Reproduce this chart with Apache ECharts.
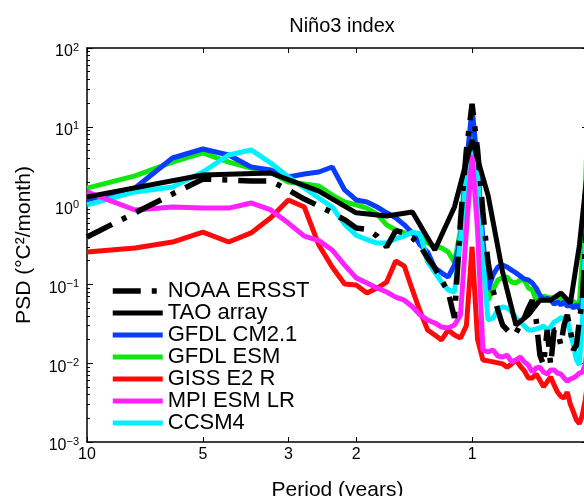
<!DOCTYPE html>
<html>
<head>
<meta charset="utf-8">
<script src="https://cdn.jsdelivr.net/npm/echarts@6/dist/echarts.min.js"></script>
<style>
html, body { margin: 0; padding: 0; background: #fff; }
#chart { width: 584px; height: 496px; }
</style>
</head>
<body>
<div id="chart"></div>
<script>
// frequency grid (cycles/year) of the model / ERSST spectra
const freq = [0.1, 0.1333, 0.1667, 0.2, 0.2333, 0.2667, 0.3, 0.3333, 0.3667, 0.4,
  0.4333, 0.4667, 0.5, 0.5333, 0.5667, 0.6, 0.6333, 0.6667, 0.7, 0.7333,
  0.7667, 0.8, 0.8333, 0.8667, 0.9, 0.9333, 0.9667, 1.0, 1.0333, 1.0667,
  1.1, 1.1333, 1.1667, 1.2, 1.2333, 1.2667, 1.3, 1.3333, 1.3667, 1.4,
  1.4333, 1.4667, 1.5, 1.5333, 1.5667, 1.6, 1.6333, 1.6667, 1.7, 1.7333,
  1.7667, 1.8, 1.8333, 1.8667, 1.9, 1.9333, 1.9667, 2.0];
// TAO array is a shorter record -> coarser grid
const freqTao = [0.1, 0.2, 0.3, 0.4, 0.5, 0.6, 0.7, 0.8, 0.9, 1.0,
  1.1, 1.2, 1.3, 1.4, 1.5, 1.6, 1.7, 1.8, 1.9, 2.0];

const noaaErsst = [0.40, 0.81, 1.40, 2.18, 2.11, 2.05, 2.05, 1.58, 1.21, 0.99,
  0.81, 0.66, 0.52, 0.50, 0.41, 0.298, 0.48, 0.45, 0.39, 0.307,
  0.216, 0.162, 0.114, 0.080, 0.0375, 0.66, 5.1, 19.5, 5.1, 0.83,
  0.192, 0.085, 0.047, 0.0305, 0.0264, 0.0228, 0.0242, 0.0305, 0.0375, 0.050,
  0.063, 0.0353, 0.0127, 0.0095, 0.0264, 0.0095, 0.0264, 0.0264, 0.017, 0.0305,
  0.041, 0.0264, 0.0147, 0.017, 0.0353, 0.063, 0.273, 1.18];
const taoArray = [1.29, 2.44, 2.59, 1.53, 0.81, 0.74, 0.83, 0.273, 0.96, 6.8,
  1.36, 0.144, 0.0305, 0.041, 0.063, 0.063, 0.078, 0.058, 0.316, 3.27];
const gfdlCm21 = [1.18, 1.67, 4.02, 5.23, 4.39, 3.09, 2.83, 2.31, 2.52, 2.67,
  3.09, 1.58, 1.18, 1.11, 0.96, 0.81, 0.70, 0.57, 0.45, 0.316,
  0.258, 0.162, 0.14, 0.124, 0.176, 0.37, 3.27, 17.3, 3.27, 0.37,
  0.085, 0.132, 0.166, 0.176, 0.166, 0.152, 0.14, 0.128, 0.117, 0.114,
  0.104, 0.090, 0.073, 0.063, 0.067, 0.063, 0.056, 0.060, 0.055, 0.060,
  0.053, 0.055, 0.050, 0.055, 0.049, 0.063, 0.273, 1.18];
const gfdlEsm = [1.67, 2.38, 3.57, 4.66, 3.57, 3.0, 2.67, 1.99, 1.88, 1.77,
  1.36, 1.11, 1.02, 0.93, 0.78, 0.57, 0.49, 0.45, 0.45, 0.42,
  0.335, 0.307, 0.29, 0.258, 0.192, 0.49, 3.79, 10.0, 3.79, 0.204,
  0.063, 0.085, 0.114, 0.121, 0.124, 0.107, 0.104, 0.114, 0.114, 0.090,
  0.085, 0.063, 0.067, 0.071, 0.069, 0.067, 0.069, 0.069, 0.065, 0.063,
  0.062, 0.063, 0.060, 0.058, 0.058, 0.204, 1.58, 12.2];
const gissE2r = [0.258, 0.29, 0.345, 0.46, 0.345, 0.45, 0.70, 1.18, 0.96, 0.316,
  0.166, 0.101, 0.098, 0.078, 0.090, 0.107, 0.198, 0.171, 0.085, 0.045,
  0.0264, 0.0228, 0.0197, 0.0264, 0.0228, 0.0209, 0.03, 0.3, 0.02, 0.011,
  0.0107, 0.0104, 0.0101, 0.0098, 0.0089, 0.0098, 0.011, 0.0092, 0.008, 0.0065,
  0.0065, 0.0073, 0.0061, 0.005, 0.0058, 0.0067, 0.0053, 0.0043, 0.0038, 0.0036,
  0.0043, 0.003, 0.0024, 0.0019, 0.0017, 0.0022, 0.0034, 0.0061];
const mpiEsmLr = [1.49, 0.88, 0.96, 0.93, 0.93, 1.08, 0.88, 0.60, 0.41, 0.36,
  0.273, 0.176, 0.121, 0.104, 0.090, 0.080, 0.069, 0.063, 0.052, 0.041,
  0.0353, 0.0324, 0.0288, 0.028, 0.0305, 0.041, 0.49, 4.39, 0.49, 0.0147,
  0.0139, 0.0147, 0.0123, 0.012, 0.0127, 0.0104, 0.011, 0.012, 0.0104, 0.0095,
  0.0077, 0.0087, 0.0089, 0.0077, 0.0073, 0.0082, 0.0082, 0.0075, 0.0073, 0.0065,
  0.0059, 0.0063, 0.0065, 0.0069, 0.0075, 0.0077, 0.0095, 0.0197];
const ccsm4 = [1.02, 1.49, 1.72, 2.67, 4.39, 5.1, 3.47, 2.31, 1.67, 1.25,
  0.96, 0.58, 0.42, 0.37, 0.335, 0.335, 0.38, 0.41, 0.46, 0.44,
  0.192, 0.144, 0.107, 0.085, 0.080, 0.37, 2.44, 6.8, 2.44, 0.204,
  0.0353, 0.0375, 0.047, 0.052, 0.050, 0.045, 0.0375, 0.0333, 0.0297, 0.0264,
  0.0264, 0.0272, 0.028, 0.0297, 0.0264, 0.0288, 0.0333, 0.0353, 0.0375, 0.0375,
  0.0353, 0.0242, 0.017, 0.011, 0.0095, 0.0353, 0.273, 2.11];

const periodTicks = [10, 5, 3, 2, 1];
const legendNames = ['NOAA ERSST', 'TAO array', 'GFDL CM2.1', 'GFDL ESM', 'GISS E2 R', 'MPI ESM LR', 'CCSM4'];

// x axis is log10(frequency), labelled with the period
const lg = v => Math.log10(v);
const xTicks = periodTicks.map(p => -lg(p));
const minorY = [];
for (let n = -3; n < 2; n++) {
  for (let k = 2; k <= 9; k++) minorY.push(n + lg(k));
}
function toPairs(fs, vals) {
  return fs.map((f, i) => [lg(f), vals[i]]);
}
function mkLine(name, fs, vals, color, width, type) {
  return {
    name,
    type: 'line',
    data: toPairs(fs, vals),
    symbol: 'none',
    lineStyle: { color, width, type: type || 'solid' },
    itemStyle: { color },
    emphasis: { disabled: true },
  };
}

const FONT = 'Liberation Sans, Arial, Helvetica, sans-serif';
const xMin = -1, xMax = lg(2);
const axisLine = { onZero: false, lineStyle: { color: '#000', width: 1.5 } };

const chart = echarts.init(document.getElementById('chart'), null, { renderer: 'canvas' });
chart.setOption({
  animation: false,
  textStyle: { fontFamily: FONT, color: '#000' },
  title: {
    text: 'Niño3 index',
    left: 337, top: 11, textAlign: 'center',
    textStyle: { fontSize: 20, fontWeight: 'normal', color: '#000', fontFamily: FONT },
  },
  grid: { left: 87, top: 48, width: 501, height: 394, outerBoundsMode: 'none', containLabel: false },
  legend: {
    data: legendNames,
    orient: 'vertical',
    left: 105, top: 275,
    itemWidth: 50, itemHeight: 1, itemGap: 0,
    selectedMode: false,
    lineStyle: { width: 'inherit', type: 'inherit' },
    itemStyle: { opacity: 0 },
    textStyle: { fontSize: 22, lineHeight: 21.7, color: '#000', fontFamily: FONT },
  },
  xAxis: [{
    type: 'value', min: xMin, max: xMax,
    name: 'Period (years)', nameLocation: 'middle', nameGap: 38,
    nameTextStyle: { fontSize: 21, color: '#000', fontFamily: FONT },
    axisLine,
    axisTick: { inside: true, length: 5, customValues: xTicks, lineStyle: { color: '#000', width: 1 } },
    axisLabel: {
      customValues: xTicks, margin: 5, fontSize: 16, color: '#000', fontFamily: FONT,
      formatter: v => String(Math.round(Math.pow(10, -v))),
    },
    splitLine: { show: false },
  }, {
    type: 'value', min: xMin, max: xMax, position: 'top',
    axisLine,
    axisTick: { inside: true, length: 5, customValues: xTicks, lineStyle: { color: '#000', width: 1 } },
    axisLabel: { show: false },
    splitLine: { show: false },
  }],
  yAxis: [{
    type: 'log', logBase: 10, min: 0.001, max: 100,
    name: 'PSD (°C²/month)', nameLocation: 'middle', nameGap: 52,
    nameTextStyle: { fontSize: 21, color: '#000', fontFamily: FONT },
    axisLine,
    axisTick: { inside: true, length: 6, lineStyle: { color: '#000', width: 1 } },
    axisLabel: {
      margin: 8, padding: [6, 0, 0, 0],
      formatter: v => {
        const e = Math.round(lg(v));
        return '{b|10}{s|' + (e < 0 ? '\u2212' + (-e) : e) + '}';
      },
      rich: {
        b: { fontSize: 16, lineHeight: 18, verticalAlign: 'bottom', color: '#000', fontFamily: FONT },
        s: { fontSize: 11, lineHeight: 11, verticalAlign: 'top', color: '#000', fontFamily: FONT },
      },
    },
    splitLine: { show: false },
  }, {
    type: 'value', min: -3, max: 2, position: 'left',
    axisLine: { show: false, onZero: false },
    axisTick: { inside: true, length: 3, customValues: minorY, lineStyle: { color: '#000', width: 1 } },
    axisLabel: { show: false },
    splitLine: { show: false },
  }, {
    type: 'log', logBase: 10, min: 0.001, max: 100, position: 'right',
    axisLine,
    axisTick: { inside: true, length: 6, lineStyle: { color: '#000', width: 1 } },
    axisLabel: { show: false },
    splitLine: { show: false },
  }],
  series: [
    mkLine('GFDL ESM', freq, gfdlEsm, '#10e610', 5),
    mkLine('GFDL CM2.1', freq, gfdlCm21, '#0a3cff', 5),
    mkLine('CCSM4', freq, ccsm4, '#00f0ff', 5),
    mkLine('GISS E2 R', freq, gissE2r, '#ff0a0a', 5),
    mkLine('MPI ESM LR', freq, mpiEsmLr, '#ff22ff', 5),
    mkLine('TAO array', freqTao, taoArray, '#000000', 5),
    mkLine('NOAA ERSST', freq, noaaErsst, '#000000', 5.5, [28, 11, 5, 11]),
  ],
});
</script>
</body>
</html>
